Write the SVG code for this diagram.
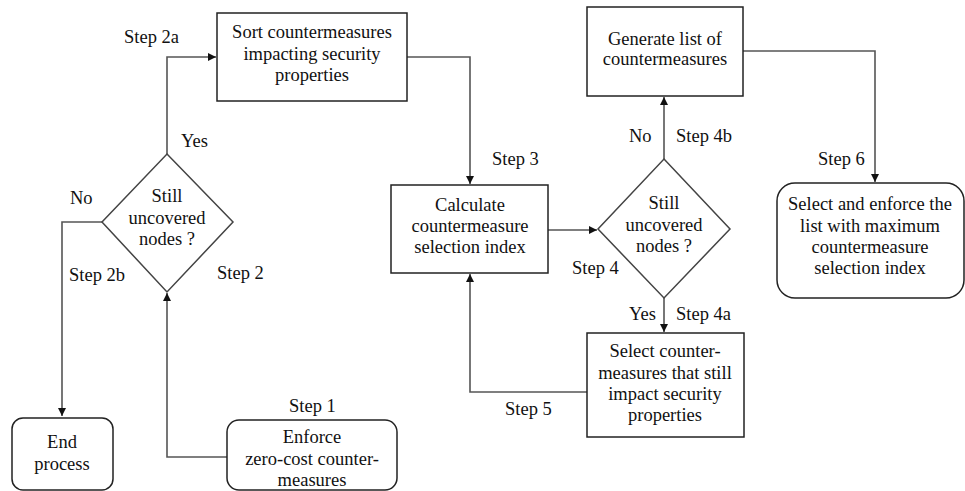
<svg xmlns="http://www.w3.org/2000/svg" width="965" height="491" viewBox="0 0 965 491">
  <defs>
    <marker id="arrow" viewBox="0 0 10 10" refX="10" refY="5" markerWidth="8" markerHeight="8" markerUnits="userSpaceOnUse" orient="auto">
      <path d="M0,0 L10,5 L0,10 z" fill="#111"/>
    </marker>
    <style>
      .box { fill: #fff; stroke: #222; stroke-width: 1.5; }
      .dec { fill: #fff; stroke: #444; stroke-width: 1.5; }
      .link { fill: none; stroke: #555; stroke-width: 1.6; }
      .t { font-family: 'Liberation Serif', Tinos, 'Times New Roman', Times, 'Noto Serif', 'DejaVu Serif', FreeSerif, serif; font-size: 18.5px; fill: #111; }
      .c { text-anchor: middle; }
    </style>
  </defs>
  <rect width="965" height="491" fill="#fff"/>

  <!-- connectors -->
  <g id="connectors">
    <path class="link" d="M167,154 V57 H216" marker-end="url(#arrow)"/>
    <path class="link" d="M407,57 H470 V184" marker-end="url(#arrow)"/>
    <path class="link" d="M548,230 H597" marker-end="url(#arrow)"/>
    <path class="link" d="M664,159 V97" marker-end="url(#arrow)"/>
    <path class="link" d="M743,51 H875 V182" marker-end="url(#arrow)"/>
    <path class="link" d="M664,298 V332" marker-end="url(#arrow)"/>
    <path class="link" d="M587,392 H470 V274" marker-end="url(#arrow)"/>
    <path class="link" d="M102,222 H62 V416" marker-end="url(#arrow)"/>
    <path class="link" d="M227,457 H167 V293" marker-end="url(#arrow)"/>
  </g>

  <g class="t">
    <!-- step labels -->
    <g id="labels">
      <text x="124" y="43">Step 2a</text>
      <text x="181" y="147">Yes</text>
      <text x="70" y="204">No</text>
      <text x="69" y="281">Step 2b</text>
      <text x="217" y="279">Step 2</text>
      <text x="289" y="412">Step 1</text>
      <text x="492" y="165">Step 3</text>
      <text x="629" y="142">No</text>
      <text x="676" y="142">Step 4b</text>
      <text x="818" y="165">Step 6</text>
      <text x="572" y="274">Step 4</text>
      <text x="629" y="320">Yes</text>
      <text x="676" y="320">Step 4a</text>
      <text x="505" y="415">Step 5</text>
    </g>

    <g id="sort">
      <rect class="box" x="217" y="13" width="190" height="88"/>
      <text class="c" x="312" y="38">Sort countermeasures</text>
      <text class="c" x="312" y="60">impacting security</text>
      <text class="c" x="312" y="81">properties</text>
    </g>

    <g id="decision1">
      <polygon class="dec" points="167,154 233,222 167,292 102,222"/>
      <text class="c" x="167" y="202">Still</text>
      <text class="c" x="167" y="224">uncovered</text>
      <text class="c" x="167" y="245">nodes ?</text>
    </g>

    <g id="end">
      <rect class="box" x="12" y="418" width="101" height="72" rx="11"/>
      <text class="c" x="62" y="448">End</text>
      <text class="c" x="62" y="470">process</text>
    </g>

    <g id="enforce">
      <rect class="box" x="227" y="420" width="170" height="70" rx="12"/>
      <text class="c" x="312" y="443">Enforce</text>
      <text class="c" x="312" y="465">zero-cost counter-</text>
      <text class="c" x="312" y="486">measures</text>
    </g>

    <g id="calculate">
      <rect class="box" x="391" y="185" width="157" height="88"/>
      <text class="c" x="470" y="211">Calculate</text>
      <text class="c" x="470" y="232">countermeasure</text>
      <text class="c" x="470" y="253">selection index</text>
    </g>

    <g id="decision2">
      <polygon class="dec" points="664,159 730,229 664,298 598,229"/>
      <text class="c" x="664" y="209">Still</text>
      <text class="c" x="664" y="231">uncovered</text>
      <text class="c" x="664" y="252">nodes ?</text>
    </g>

    <g id="generate">
      <rect class="box" x="587" y="7" width="156" height="89"/>
      <text class="c" x="665" y="45">Generate list of</text>
      <text class="c" x="665" y="65">countermeasures</text>
    </g>

    <g id="select">
      <rect class="box" x="587" y="333" width="157" height="104"/>
      <text class="c" x="665" y="357">Select counter-</text>
      <text class="c" x="665" y="379">measures that still</text>
      <text class="c" x="665" y="400">impact security</text>
      <text class="c" x="665" y="421">properties</text>
    </g>

    <g id="selectmax">
      <rect class="box" x="777" y="183" width="187" height="115" rx="18"/>
      <text class="c" x="870" y="210">Select and enforce the</text>
      <text class="c" x="870" y="232">list with maximum</text>
      <text class="c" x="870" y="253">countermeasure</text>
      <text class="c" x="870" y="274">selection index</text>
    </g>
  </g>
</svg>
